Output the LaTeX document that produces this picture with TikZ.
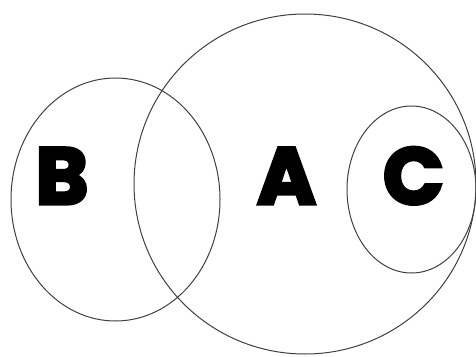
\documentclass[tikz,border=0pt]{standalone}
\usepackage{fontspec}
\newfontfamily\heavyfont[FakeBold=4]{Poppins Bold}
\usetikzlibrary{shapes.geometric}
\tikzset{
  setline/.style={ellipse, draw=black!75, line width=1pt, inner sep=0pt},
  setlabel/.style={font=\heavyfont\fontsize{80}{80}\selectfont, anchor=base, inner sep=0pt},
}
\begin{document}
\begin{tikzpicture}[x=1pt, y=-1pt]
  \useasboundingbox (0,0) rectangle (476,356);
  % the three sets
  \node[setline, minimum width=342pt, minimum height=340pt] (setA) at (305,184) {};
  \node[setline, minimum width=209pt, minimum height=243pt] (setB) at (115.5,199.5) {};
  \node[setline, minimum width=129pt, minimum height=167pt] (setC) at (411.5,189.5) {};
  % labels
  \node[setlabel] (labB) at (62,204) {B};
  \node[setlabel] (labA) at (286.5,204) {A};
  \node[setlabel] (labC) at (413.5,204) {C};
\end{tikzpicture}
\end{document}
